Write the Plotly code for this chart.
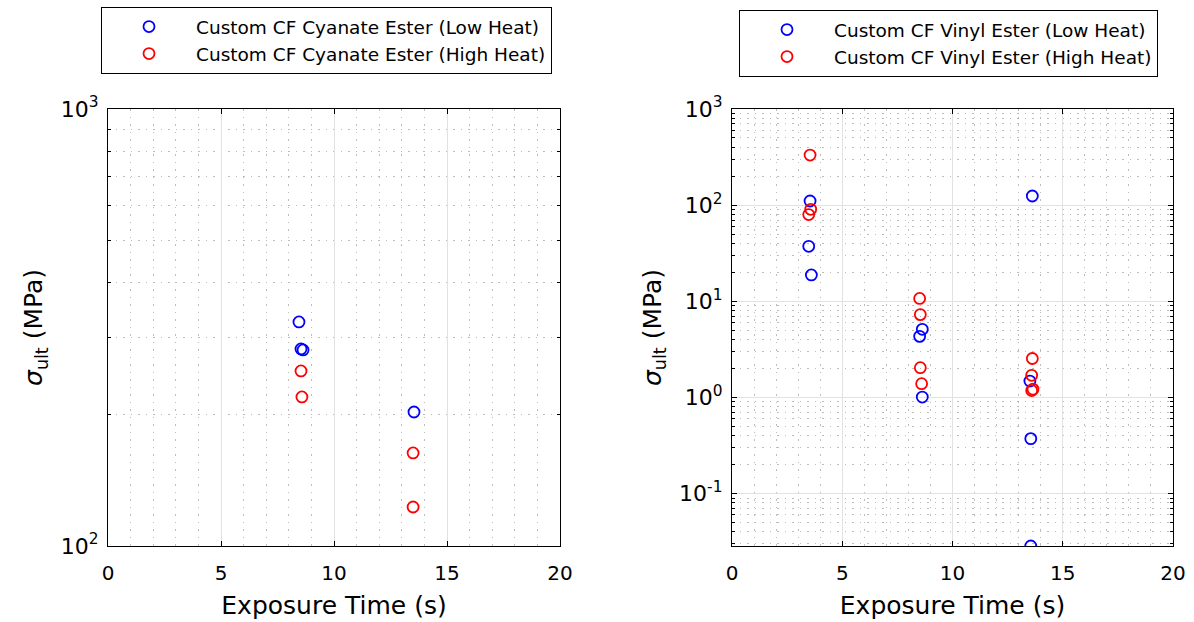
import plotly.graph_objects as go

# ---------------- data ----------------
ce_low_t = [8.45, 8.54, 8.63, 13.54]
ce_low_s = [325.6, 282.4, 281.0, 202.6]
ce_high_t = [8.54, 8.58, 13.50, 13.50]
ce_high_s = [251.5, 219.3, 163.3, 122.8]

ve_low_t = [3.54, 3.48, 3.60, 8.63, 8.51, 8.63, 13.62, 13.51, 13.55, 13.55]
ve_low_s = [110.4, 37.3, 18.8, 5.11, 4.32, 1.01, 124.5, 1.48, 0.373, 0.0285]
ve_high_t = [3.54, 3.57, 3.48, 8.51, 8.54, 8.54, 8.60, 13.62, 13.59, 13.65, 13.59]
ve_high_s = [332.0, 90.5, 79.8, 10.7, 7.27, 2.04, 1.39, 2.54, 1.70, 1.22, 1.18]

x_ticks = [0, 5, 10, 15, 20]
left_yticks = [100, 1000]
left_ytext = ["10<sup>2</sup>", "10<sup>3</sup>"]
right_yticks = [0.1, 1, 10, 100, 1000]
right_ytext = ["10<sup>-1</sup>", "10<sup>0</sup>", "10<sup>1</sup>", "10<sup>2</sup>", "10<sup>3</sup>"]

names = ["Custom CF Cyanate Ester (Low Heat)", "Custom CF Cyanate Ester (High Heat)",
         "Custom CF Vinyl Ester (Low Heat)", "Custom CF Vinyl Ester (High Heat)"]

FONT = "DejaVu Sans"

def mk(color):
    return dict(symbol="circle-open", size=11, color=color, line=dict(width=1.8, color=color))

fig = go.Figure()
fig.add_trace(go.Scatter(x=ce_low_t, y=ce_low_s, mode="markers", marker=mk("#0000ff"),
                         name=names[0], xaxis="x", yaxis="y", legend="legend"))
fig.add_trace(go.Scatter(x=ce_high_t, y=ce_high_s, mode="markers", marker=mk("#ff0000"),
                         name=names[1], xaxis="x", yaxis="y", legend="legend"))
fig.add_trace(go.Scatter(x=ve_low_t, y=ve_low_s, mode="markers", marker=mk("#0000ff"),
                         name=names[2], xaxis="x2", yaxis="y2", legend="legend2"))
fig.add_trace(go.Scatter(x=ve_high_t, y=ve_high_s, mode="markers", marker=mk("#ff0000"),
                         name=names[3], xaxis="x2", yaxis="y2", legend="legend2"))

GRID = "#e2e2e2"
MINOR = "#bcbcbc"
DOT = "1.5px,6px"

def xaxis(domain, anchor):
    return dict(domain=domain, anchor=anchor, range=[0, 20], tickvals=x_ticks,
                showline=True, linecolor="black", linewidth=1.3, mirror="ticks",
                ticks="inside", ticklen=5, tickcolor="black", tickwidth=1,
                showgrid=True, gridcolor=GRID, gridwidth=1,
                zeroline=False, ticklabelstandoff=9,
                minor=dict(dtick=1, ticks="", showgrid=True, gridcolor=MINOR, griddash=DOT, gridwidth=1),
                tickfont=dict(family=FONT, size=20, color="black"),
                title=dict(text="Exposure Time (s)", font=dict(family=FONT, size=25, color="black"), standoff=12))

def yaxis(domain, anchor, rng, tv, tt):
    return dict(domain=domain, anchor=anchor, type="log", range=rng, tickvals=tv, ticktext=tt,
                showline=True, linecolor="black", linewidth=1.3, mirror="ticks",
                ticks="inside", ticklen=5, tickcolor="black", tickwidth=1,
                showgrid=True, gridcolor=GRID, gridwidth=1,
                zeroline=False, ticklabelstandoff=4,
                minor=dict(dtick="D1", ticks="inside", ticklen=3, tickcolor="black",
                           showgrid=True, gridcolor=MINOR, griddash=DOT, gridwidth=1),
                tickfont=dict(family=FONT, size=22, color="black"),
                title=dict(text="<i>σ</i><sub>ult</sub> (MPa)", font=dict(family=FONT, size=25, color="black"), standoff=10))

ydom = [1 - 546/622, 1 - 109/622]
fig.update_layout(
    width=1194, height=622,
    margin=dict(l=0, r=0, t=0, b=0, autoexpand=False),
    paper_bgcolor="white", plot_bgcolor="white",
    showlegend=True,
    xaxis=xaxis([108/1194, 560/1194], "y"),
    yaxis=yaxis(ydom, "x", [2, 3], left_yticks, left_ytext),
    xaxis2=xaxis([732/1194, 1173/1194], "y2"),
    yaxis2=yaxis(ydom, "x2", [-1.545, 3], right_yticks, right_ytext),
    legend=dict(x=101/1194, y=1 - 7/622, xanchor="left", yanchor="top", itemwidth=84,
                bgcolor="white", bordercolor="black", borderwidth=1,
                font=dict(family=FONT, size=18.5, color="black"), tracegroupgap=0),
    legend2=dict(x=739/1194, y=1 - 10/622, xanchor="left", yanchor="top", itemwidth=84,
                 bgcolor="white", bordercolor="black", borderwidth=1,
                 font=dict(family=FONT, size=18.5, color="black"), tracegroupgap=0),
)

fig.write_html("out.html")
